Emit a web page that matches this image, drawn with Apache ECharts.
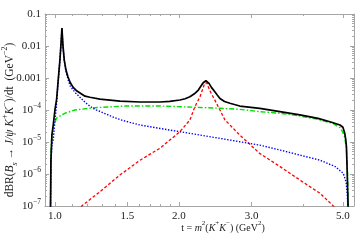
<!DOCTYPE html>
<html><head><meta charset="utf-8">
<script src="https://cdn.jsdelivr.net/npm/echarts@6/dist/echarts.min.js"></script>
<style>html,body{margin:0;padding:0;background:#fff}#c{width:357px;height:241px}</style>
</head><body><div id="c"></div>
<script>
// ---- axis ticks ----
const xTickLabels = [1.0, 1.5, 2.0, 3.0, 5.0];
const xMinorTicks = [1.1, 1.2, 1.3, 1.4, 1.6, 1.7, 1.8, 1.9, 4.0];
const yTickLabels = [1e-7, 1e-6, 1e-5, 1e-4, 1e-3, 1e-2, 1e-1];

// ---- total (black, solid) ----
const totalT = [0.9752, 0.9779, 0.9834, 0.9905, 1.0, 1.0095, 1.0186, 1.0283, 1.0341, 1.0399, 1.0457, 1.0533, 1.0634, 1.0754, 1.0875, 1.106, 1.131, 1.183, 1.216, 1.286, 1.438, 1.609, 1.799, 1.9, 2.011, 2.07, 2.126, 2.18, 2.229, 2.26, 2.29, 2.31, 2.325, 2.345, 2.366, 2.40, 2.444, 2.48, 2.515, 2.58, 2.659, 2.809, 3.143, 3.516, 3.932, 4.35, 4.65, 4.92, 5.0, 5.05, 5.08, 5.10, 5.12, 5.14, 5.152];
const totalV = [5e-8, 2.7e-6, 1.7e-5, 3.4e-5, 1.0e-4, 2.2e-4, 8.7e-4, 3.7e-3, 1.07e-2, 3.65e-2, 1.07e-2, 3.7e-3, 1.8e-3, 1.1e-3, 7.5e-4, 5.2e-4, 3.9e-4, 2.7e-4, 2.5e-4, 2.2e-4, 1.9e-4, 1.78e-4, 1.78e-4, 1.85e-4, 2.05e-4, 2.25e-4, 2.6e-4, 3.2e-4, 4.2e-4, 5.5e-4, 7.1e-4, 7.9e-4, 8.2e-4, 7.8e-4, 6.8e-4, 5.0e-4, 3.7e-4, 2.9e-4, 2.3e-4, 1.85e-4, 1.62e-4, 1.33e-4, 1.13e-4, 8.9e-5, 7.0e-5, 5.5e-5, 4.3e-5, 3.4e-5, 2.9e-5, 1.9e-5, 1.2e-5, 7.1e-6, 1.33e-6, 2e-7, 5e-8];

// ---- phi contribution (blue, dotted) ----
const phiT = [0.9752, 0.978, 0.9834, 0.9905, 1.0, 1.0095, 1.0186, 1.0283, 1.0341, 1.0399, 1.0457, 1.0533, 1.0634, 1.077, 1.09, 1.118, 1.15, 1.183, 1.216, 1.25, 1.308, 1.373, 1.438, 1.52, 1.609, 1.70, 1.799, 2.011, 2.25, 2.515, 2.81, 3.14, 3.52, 3.93, 4.40, 4.79, 5.01, 5.09, 5.12, 5.14, 5.152];
const phiV = [5e-8, 2.5e-6, 8e-6, 1.2e-5, 4.5e-5, 1.6e-4, 8e-4, 3.6e-3, 1.05e-2, 3.6e-2, 1.05e-2, 3.6e-3, 1.6e-3, 8.7e-4, 5.5e-4, 3.6e-4, 2.5e-4, 1.75e-4, 1.32e-4, 1.05e-4, 8.2e-5, 6.3e-5, 5.0e-5, 4.1e-5, 3.4e-5, 3.0e-5, 2.65e-5, 2.1e-5, 1.65e-5, 1.3e-5, 1.02e-5, 8e-6, 5.6e-6, 3.9e-6, 2.7e-6, 1.7e-6, 1.05e-6, 5.7e-7, 2.6e-7, 1e-7, 5e-8];

// ---- S-wave / non-resonant (green, dash-dot) ----
const swaveT = [0.9752, 0.978, 0.9834, 0.9905, 1.0095, 1.057, 1.118, 1.25, 1.479, 1.8, 2.011, 2.25, 2.515, 2.81, 3.14, 3.52, 3.93, 4.32, 4.73, 4.92, 4.99, 5.05, 5.10, 5.13, 5.145, 5.152];
const swaveV = [5e-8, 5.6e-6, 1.6e-5, 3e-5, 5.6e-5, 7.9e-5, 1e-4, 1.18e-4, 1.33e-4, 1.33e-4, 1.27e-4, 1.2e-4, 1.13e-4, 1.05e-4, 8.9e-5, 7.9e-5, 6.5e-5, 5.2e-5, 3.8e-5, 2.8e-5, 2.1e-5, 1.4e-5, 6e-6, 1.2e-6, 2e-7, 5e-8];

// ---- f2'(1525) contribution (red, dashed) ----
const f2T = [1.14, 1.161, 1.286, 1.438, 1.609, 1.799, 2.011, 2.126, 2.187, 2.25, 2.29, 2.31, 2.325, 2.34, 2.355, 2.39, 2.42, 2.515, 2.586, 2.81, 3.14, 3.52, 3.93, 4.40, 4.74, 4.9];
const f2V = [7e-8, 1e-7, 2.8e-7, 9.3e-7, 2.7e-6, 6.4e-6, 2.1e-5, 4.9e-5, 1.27e-4, 2.6e-4, 5e-4, 6.8e-4, 7.7e-4, 7e-4, 5.4e-4, 3.5e-4, 2.6e-4, 1e-4, 4.9e-5, 1.65e-5, 4.4e-6, 1.7e-6, 6.5e-7, 2.5e-7, 1e-7, 7e-8];

const xMin = 0.946, xMax = 5.32, yMin = 1e-7, yMax = 0.1;
const FONT = 'Liberation Serif';
const FRAME = '#a6a6a6';
const TXT = '#222';

const yMinorTicks = [];
for (let e = -7; e <= -2; e++) for (let k = 2; k <= 9; k++) yMinorTicks.push(Number((k * Math.pow(10, e)).toPrecision(3)));

function zip(a, b) { return a.map((v, i) => [v, b[i]]); }

function xAx(pos, major, withLabel) {
  return {
    type: 'log', min: xMin, max: xMax, position: pos,
    axisLine: { show: major, lineStyle: { color: FRAME, width: 1 } },
    axisTick: { show: true, inside: true, length: major ? 4 : 2, lineStyle: { color: FRAME }, customValues: major ? xTickLabels : xMinorTicks },
    axisLabel: withLabel ? { show: true, customValues: xTickLabels, formatter: v => Number(v).toFixed(1), fontFamily: FONT, fontSize: 11, color: TXT, margin: 5 } : { show: false },
    splitLine: { show: false }, minorTick: { show: false }
  };
}
const supRich = {
  b: { fontFamily: FONT, fontSize: 11, color: TXT, lineHeight: 16 },
  s: { fontFamily: FONT, fontSize: 7.5, color: TXT, lineHeight: 9, verticalAlign: 'top' }
};
function yAx(pos, major, withLabel) {
  return {
    type: 'log', min: yMin, max: yMax, position: pos,
    axisLine: { show: major, lineStyle: { color: FRAME, width: 1 } },
    axisTick: { show: true, inside: true, length: major ? 4 : 2, lineStyle: { color: FRAME }, customValues: major ? yTickLabels : yMinorTicks },
    axisLabel: withLabel ? {
      show: true, customValues: yTickLabels, fontFamily: FONT, fontSize: 11, color: TXT, margin: 4,
      formatter: v => {
        const e = Math.round(Math.log10(v));
        if (e >= -3) return '{b|' + Number(Math.pow(10, e).toFixed(-e)) + '}';
        return '{b|10}{s|\u2212' + (-e) + '}';
      },
      rich: supRich
    } : { show: false },
    splitLine: { show: false }, minorTick: { show: false }
  };
}

function titleRich(fs) {
  return {
    n: { fontFamily: FONT, fontSize: fs, fill: TXT, lineHeight: fs + 6 },
    i: { fontFamily: FONT, fontSize: fs, fontStyle: 'italic', fill: TXT, lineHeight: fs + 6 },
    sup: { fontFamily: FONT, fontSize: fs * 0.7, fill: TXT, lineHeight: fs * 0.8, verticalAlign: 'top' },
    sub: { fontFamily: FONT, fontSize: fs * 0.7, fontStyle: 'italic', fill: TXT, lineHeight: fs * 0.8, verticalAlign: 'bottom' }
  };
}

const chart = echarts.init(document.getElementById('c'), null, { renderer: 'canvas' });
chart.setOption({
  animation: false,
  backgroundColor: '#fff',
  grid: { left: 45, right: 3, top: 14, bottom: 35, containLabel: false },
  xAxis: [xAx('bottom', true, true), xAx('bottom', false, false), xAx('top', true, false), xAx('top', false, false)],
  yAxis: [yAx('left', true, true), yAx('left', false, false), yAx('right', true, false), yAx('right', false, false)],
  series: [
    { type: 'line', data: zip(f2T, f2V), symbol: 'none', clip: true, lineStyle: { color: '#ff0000', width: 1.3, type: [3, 2] } },
    { type: 'line', data: zip(swaveT, swaveV), symbol: 'none', clip: true, lineStyle: { color: '#00e000', width: 1.4, type: [5, 2, 1.5, 2] } },
    { type: 'line', data: zip(phiT, phiV), symbol: 'none', clip: true, lineStyle: { color: '#0000ff', width: 1.4, type: [1.4, 1.6] } },
    { type: 'line', data: zip(totalT, totalV), symbol: 'none', clip: true, lineStyle: { color: '#000', width: 1.7 } }
  ],
  graphic: [
    { type: 'text', x: 223, y: 228, style: { text: '{n|t = }{i|m}{sup|2}{n|(}{i|K}{sup|+}{i|K}{sup|\u2212}{n|) (GeV}{sup|2}{n|)}', rich: titleRich(10), align: 'center', verticalAlign: 'middle' } },
    { type: 'text', x: 10, y: 120, rotation: Math.PI / 2, style: { text: '{n|dBR(}{i|B}{sub|s}{n| \u2192 }{i|J/\u03c8 K}{sup|+}{i|K}{sup|\u2212}{n|)/dt  (GeV}{sup|\u22122}{n|)}', rich: titleRich(11.5), align: 'center', verticalAlign: 'middle' } }
  ]
});
</script>
</body></html>
